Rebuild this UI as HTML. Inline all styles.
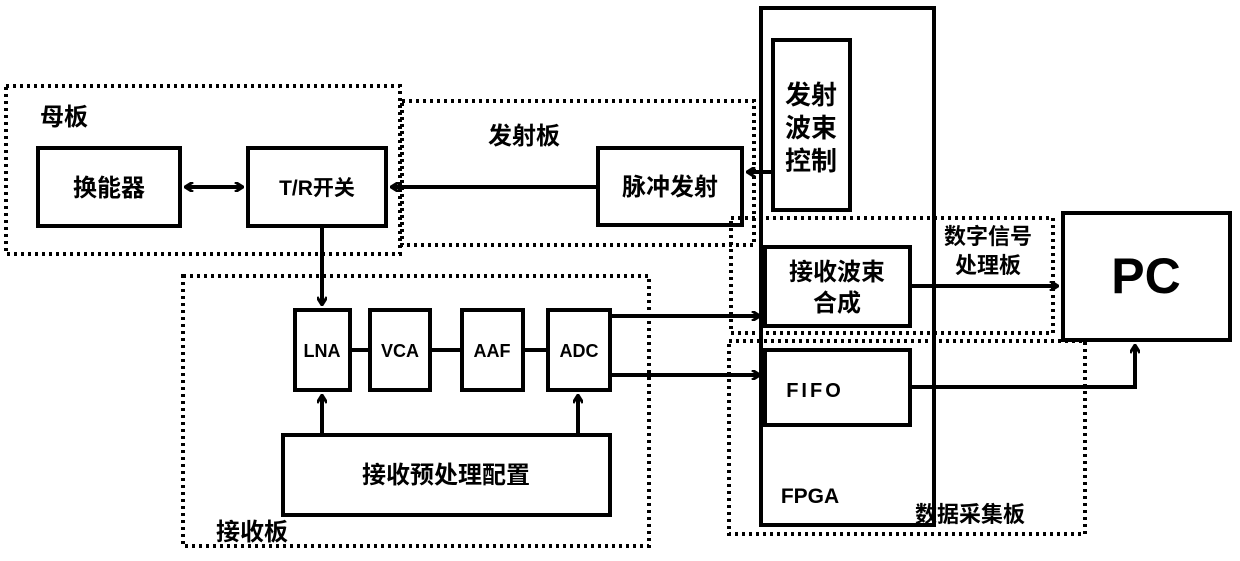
<!DOCTYPE html>
<html><head><meta charset="utf-8"><style>
html,body{margin:0;padding:0;background:#fff;}
svg{display:block;}
text{font-family:"Liberation Sans","WenQuanYi Zen Hei","Noto Sans CJK SC",sans-serif;font-weight:bold;fill:#000;}
</style></head><body>
<svg width="1240" height="561" viewBox="0 0 1240 561" xmlns="http://www.w3.org/2000/svg">
<defs>
<marker id="a" markerWidth="10" markerHeight="10" refX="8" refY="5" orient="auto" markerUnits="userSpaceOnUse">
<path d="M1,0 L9,5 L1,10" fill="none" stroke="#000" stroke-width="3"/></marker>
<marker id="b" markerWidth="10" markerHeight="10" refX="2" refY="5" orient="auto" markerUnits="userSpaceOnUse">
<path d="M9,0 L1,5 L9,10" fill="none" stroke="#000" stroke-width="3"/></marker>
</defs>
<g fill="none" stroke="#000" stroke-width="4" stroke-dasharray="3 4">
<rect x="6" y="86" width="394" height="168"/>
<rect x="402" y="101" width="352" height="144"/>
<rect x="183" y="276" width="466" height="270"/>
<rect x="731" y="218" width="322" height="115"/>
<rect x="729" y="341" width="356" height="193"/>
</g>
<g fill="none" stroke="#000" stroke-width="4">
<rect x="761" y="8" width="173" height="517"/>
<rect x="773" y="40" width="77" height="170"/>
<rect x="38" y="148" width="142" height="78"/>
<rect x="248" y="148" width="138" height="78"/>
<rect x="598" y="148" width="144" height="77"/>
<rect x="765" y="247" width="145" height="79"/>
<rect x="765" y="350" width="145" height="75"/>
<rect x="1063" y="213" width="167" height="127"/>
<rect x="295" y="310" width="55" height="80"/>
<rect x="370" y="310" width="60" height="80"/>
<rect x="462" y="310" width="61" height="80"/>
<rect x="548" y="310" width="62" height="80"/>
<rect x="283" y="435" width="327" height="80"/>
</g>
<g stroke="#000" stroke-width="4" fill="none">
<line x1="186" y1="187" x2="242" y2="187" marker-start="url(#b)" marker-end="url(#a)"/>
<line x1="598" y1="187" x2="392" y2="187" marker-end="url(#a)"/>
<line x1="773" y1="172" x2="748" y2="172" marker-end="url(#a)"/>
<line x1="322" y1="226" x2="322" y2="304" marker-end="url(#a)"/>
<line x1="350" y1="350" x2="370" y2="350"/>
<line x1="430" y1="350" x2="462" y2="350"/>
<line x1="523" y1="350" x2="548" y2="350"/>
<line x1="610" y1="316" x2="759" y2="316" marker-end="url(#a)"/>
<line x1="610" y1="375" x2="759" y2="375" marker-end="url(#a)"/>
<line x1="910" y1="286" x2="1057" y2="286" marker-end="url(#a)"/>
<polyline points="910,387 1135,387 1135,346" marker-end="url(#a)"/>
<line x1="322" y1="435" x2="322" y2="396" marker-end="url(#a)"/>
<line x1="578" y1="435" x2="578" y2="396" marker-end="url(#a)"/>
</g>
<text x="40" y="125" font-size="24">母板</text>
<text x="488" y="144" font-size="24">发射板</text>
<text x="216" y="540" font-size="24">接收板</text>
<text x="915" y="522" font-size="22">数据采集板</text>
<text x="810" y="503" font-size="21" text-anchor="middle">FPGA</text>
<text x="109" y="196" font-size="24" text-anchor="middle">换能器</text>
<text x="317" y="195" font-size="21" text-anchor="middle">T/R开关</text>
<text x="670" y="195" font-size="24" text-anchor="middle">脉冲发射</text>
<text x="811" y="104" font-size="26" text-anchor="middle">发射</text>
<text x="811" y="137" font-size="26" text-anchor="middle">波束</text>
<text x="811" y="170" font-size="26" text-anchor="middle">控制</text>
<text x="837" y="280" font-size="24" text-anchor="middle">接收波束</text>
<text x="837" y="311" font-size="24" text-anchor="middle">合成</text>
<text x="988" y="244" font-size="22" text-anchor="middle">数字信号</text>
<text x="988" y="273" font-size="22" text-anchor="middle">处理板</text>
<text x="815" y="397" font-size="20" letter-spacing="3" text-anchor="middle">FIFO</text>
<text x="1146" y="293" font-size="50" font-weight="normal" text-anchor="middle">PC</text>
<text x="322" y="357" font-size="18" text-anchor="middle">LNA</text>
<text x="400" y="357" font-size="18" text-anchor="middle">VCA</text>
<text x="492" y="357" font-size="18" text-anchor="middle">AAF</text>
<text x="579" y="357" font-size="18" text-anchor="middle">ADC</text>
<text x="446" y="483" font-size="24" text-anchor="middle">接收预处理配置</text>
</svg>
</body></html>
